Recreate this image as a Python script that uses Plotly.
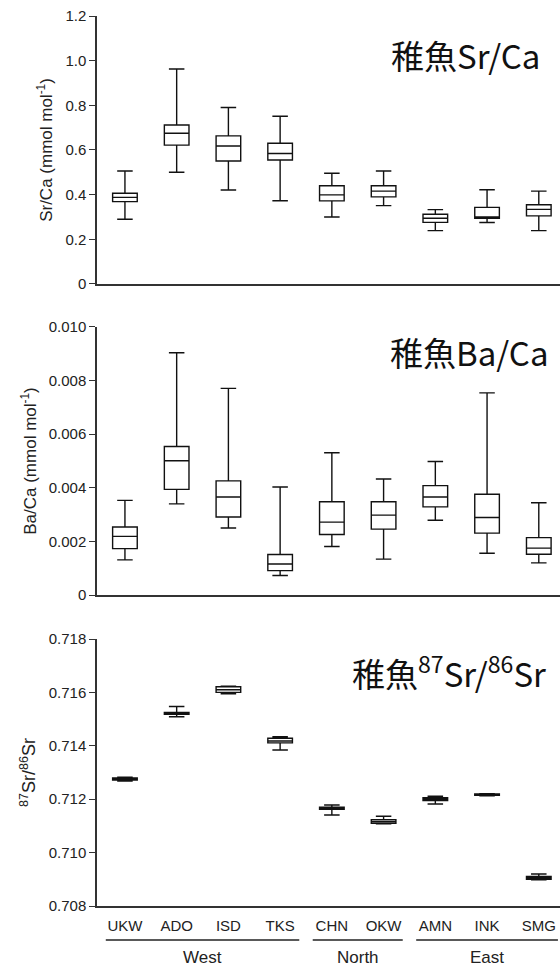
import plotly.graph_objects as go

categories = ["UKW", "ADO", "ISD", "TKS", "CHN", "OKW", "AMN", "INK", "SMG"]
groups = ["West", "North", "East"]
group_start = [0, 4, 6]
group_end = [3, 5, 8]

# Sr/Ca (mmol mol-1): lower whisker, Q1, median, Q3, upper whisker
srca_low = [0.290, 0.500, 0.421, 0.373, 0.300, 0.351, 0.239, 0.275, 0.239]
srca_q1 = [0.369, 0.622, 0.551, 0.555, 0.372, 0.390, 0.276, 0.294, 0.305]
srca_med = [0.388, 0.675, 0.618, 0.584, 0.399, 0.416, 0.294, 0.300, 0.334]
srca_q3 = [0.406, 0.712, 0.663, 0.630, 0.440, 0.440, 0.312, 0.343, 0.355]
srca_high = [0.506, 0.963, 0.790, 0.751, 0.496, 0.506, 0.333, 0.422, 0.416]

# Ba/Ca (mmol mol-1)
baca_low = [0.00131, 0.00340, 0.00250, 0.00073, 0.00181, 0.00134, 0.00279, 0.00156, 0.00120]
baca_q1 = [0.00173, 0.00394, 0.00291, 0.00091, 0.00226, 0.00246, 0.00329, 0.00231, 0.00152]
baca_med = [0.00219, 0.00501, 0.00366, 0.00116, 0.00272, 0.00298, 0.00366, 0.00289, 0.00175]
baca_q3 = [0.00254, 0.00554, 0.00426, 0.00151, 0.00348, 0.00348, 0.00408, 0.00376, 0.00214]
baca_high = [0.00353, 0.00904, 0.00771, 0.00403, 0.00531, 0.00433, 0.00498, 0.00754, 0.00344]

# 87Sr/86Sr
srsr_low = [0.71268, 0.71509, 0.71595, 0.71384, 0.71141, 0.71108, 0.71182, 0.71213, 0.70898]
srsr_q1 = [0.71272, 0.71518, 0.71600, 0.71411, 0.71162, 0.71110, 0.71195, 0.71215, 0.70900]
srsr_med = [0.71276, 0.71521, 0.71610, 0.71418, 0.71166, 0.71116, 0.71201, 0.71217, 0.70906]
srsr_q3 = [0.71280, 0.71525, 0.71621, 0.71428, 0.71170, 0.71123, 0.71206, 0.71220, 0.70911]
srsr_high = [0.71282, 0.71547, 0.71623, 0.71434, 0.71178, 0.71136, 0.71211, 0.71221, 0.70920]

srca_ticks = [0, 0.2, 0.4, 0.6, 0.8, 1.0, 1.2]
srca_ticktext = ["0", "0.2", "0.4", "0.6", "0.8", "1.0", "1.2"]
baca_ticks = [0, 0.002, 0.004, 0.006, 0.008, 0.010]
baca_ticktext = ["0", "0.002", "0.004", "0.006", "0.008", "0.010"]
srsr_ticks = [0.708, 0.710, 0.712, 0.714, 0.716, 0.718]
srsr_ticktext = ["0.708", "0.710", "0.712", "0.714", "0.716", "0.718"]

panel_titles = ["稚魚Sr/Ca", "稚魚Ba/Ca", "稚魚<sup>87</sup>Sr/<sup>86</sup>Sr"]
y_titles = ["Sr/Ca (mmol mol<sup>-1</sup>)", "Ba/Ca (mmol mol<sup>-1</sup>)", "<sup>87</sup>Sr/<sup>86</sup>Sr"]

LINE = "#111111"
AX = "#333333"
FONT = "Arial, Liberation Sans, sans-serif"

fig = go.Figure()
datasets = [
    (srca_low, srca_q1, srca_med, srca_q3, srca_high),
    (baca_low, baca_q1, baca_med, baca_q3, baca_high),
    (srsr_low, srsr_q1, srsr_med, srsr_q3, srsr_high),
]
axis_ids = ["", "2", "3"]
for (lo, q1, md, q3, hi), aid in zip(datasets, axis_ids):
    fig.add_trace(go.Box(
        x=categories, lowerfence=lo, q1=q1, median=md, q3=q3, upperfence=hi,
        boxpoints=False, fillcolor="white",
        line=dict(color=LINE, width=1.4), whiskerwidth=0.63,
        xaxis="x" + aid, yaxis="y" + aid, showlegend=False,
    ))

domains = [[0.6989, 1.0], [0.3494, 0.6506], [0.0, 0.3]]
ranges = [[0, 1.2], [0, 0.010], [0.708, 0.718]]
ticks = [(srca_ticks, srca_ticktext), (baca_ticks, baca_ticktext), (srsr_ticks, srsr_ticktext)]

layout = dict(
    width=560, height=972,
    margin=dict(l=97, r=0, t=16, b=66),
    paper_bgcolor="white", plot_bgcolor="white",
    boxgap=0.32,
    font=dict(family=FONT, color="#222222"),
)
for i, aid in enumerate(axis_ids):
    xa = dict(
        domain=[0, 1], anchor="y" + aid, type="category",
        categoryorder="array", categoryarray=categories,
        range=[-0.54, 8.41], showline=True, linecolor=AX, linewidth=1.5,
        showgrid=False, zeroline=False, ticks="",
        showticklabels=(i == 2),
        tickfont=dict(size=15, color="#222222"), ticklabelstandoff=5,
    )
    ya = dict(
        domain=domains[i], anchor="x" + aid, range=ranges[i],
        showline=True, linecolor=AX, linewidth=1.5,
        showgrid=False, zeroline=False, ticks="outside", ticklen=6,
        tickcolor=AX, tickwidth=1.2,
        tickvals=ticks[i][0], ticktext=ticks[i][1],
        tickfont=dict(size=15, color="#222222"),
        title=dict(text=y_titles[i], font=dict(size=17 if i < 2 else 18, color="#222222"),
                   standoff=8),
    )
    layout["xaxis" + aid] = xa
    layout["yaxis" + aid] = ya
fig.update_layout(**layout)

# panel titles
title_pos = [(0.961, 0.956), (0.978, 0.6225), (0.974, 0.263)]
for t, (px, py) in zip(panel_titles, title_pos):
    fig.add_annotation(text=t, xref="paper", yref="paper", x=px, y=py,
                       xanchor="right", yanchor="middle", showarrow=False,
                       font=dict(family="Noto Sans CJK JP", size=33, color="#111111"))

# group underlines and labels on bottom axis
for g, s, e in zip(groups, group_start, group_end):
    fig.add_shape(type="line", xref="x3", yref="paper",
                  x0=s - 0.37, x1=e + 0.37, y0=-0.0382, y1=-0.0382,
                  line=dict(color="#222222", width=1.3))
    fig.add_annotation(text=g, xref="x3", yref="paper", x=(s + e) / 2, y=-0.0584,
                       xanchor="center", yanchor="middle", showarrow=False,
                       font=dict(family=FONT, size=17, color="#222222"))

fig.write_html("out.html", config={"displayModeBar": False},
               post_script="document.body.style.margin='0';document.body.style.overflow='hidden';")
